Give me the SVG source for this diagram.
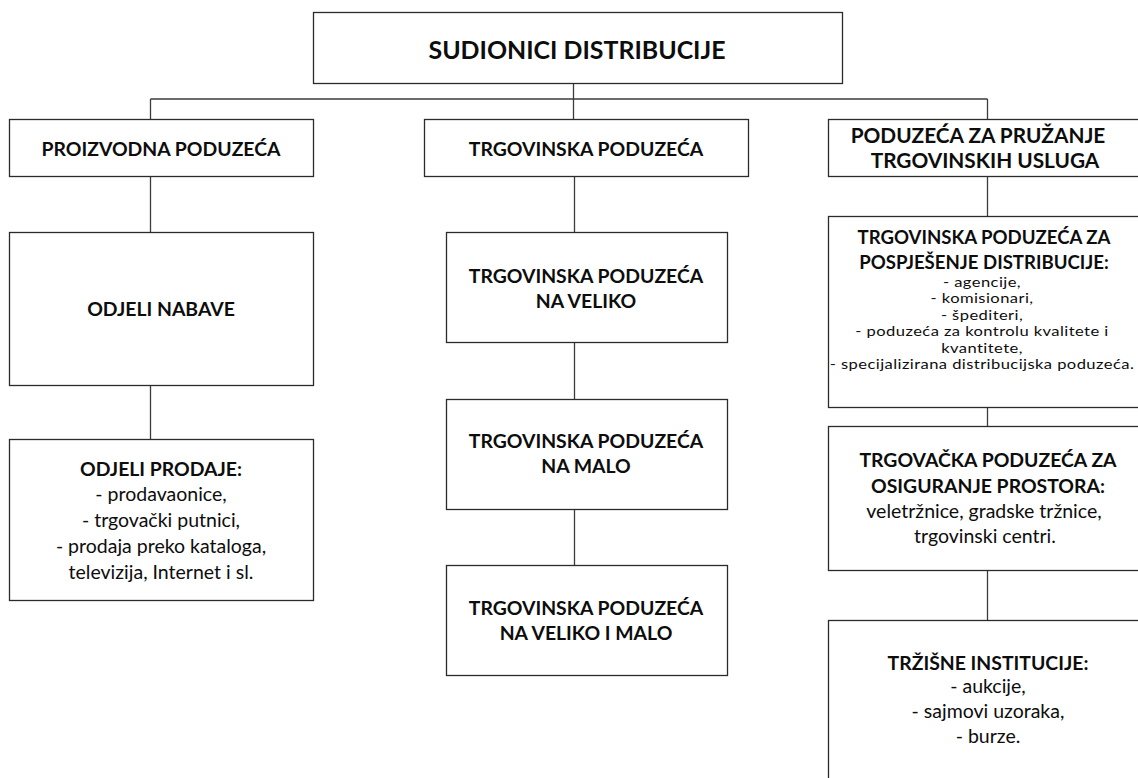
<svg xmlns="http://www.w3.org/2000/svg" width="1138" height="778" viewBox="0 0 1138 778">
<style>
.box{fill:#fff;stroke:#2b2b2b;stroke-width:1.3}
.con{fill:none;stroke:#3c3c3c;stroke-width:1.3}
text{font-family:Lato,"Open Sans","Liberation Sans",sans-serif;fill:#0d0d0d;text-anchor:middle}
.t{font-size:24.9px;font-weight:700}
.b{font-size:19.4px;font-weight:700}
.bu{font-size:20.8px;font-weight:700}
.b2{font-size:18.6px;font-weight:700}
.r{font-size:19.5px}
.s{font-size:13.8px;letter-spacing:0.35px}
</style>
<rect width="1138" height="778" fill="#fff"/>
<g id="connectors">
<path class="con" d="M573.5 83V99M150.5 99H987.5M150.5 99V119M573.5 99V119M987.5 99V119"/>
<path class="con" d="M150.5 176V232M150.5 386V439"/>
<path class="con" d="M574.5 176V232M574.5 342V399M574.5 509V565"/>
<path class="con" d="M987.5 176V216M987.5 407V426M987.5 570V620"/>
</g>
<g id="root"><rect class="box" x="313.5" y="12.5" width="529" height="71"/><text class="t" x="577" y="59">SUDIONICI DISTRIBUCIJE</text></g>
<g id="proizvodna"><rect class="box" x="9.5" y="119.5" width="304" height="57"/><text class="b" x="161" y="156">PROIZVODNA PODUZEĆA</text></g>
<g id="trgovinska"><rect class="box" x="424.5" y="119.5" width="324" height="57"/><text class="b" x="586" y="156">TRGOVINSKA PODUZEĆA</text></g>
<g id="usluge"><rect class="box" x="828.5" y="119.5" width="320" height="57"/><text class="bu" x="978" y="143">PODUZEĆA ZA PRUŽANJE</text><text class="bu" x="985" y="168">TRGOVINSKIH USLUGA</text></g>
<g id="nabave"><rect class="box" x="9.5" y="232.5" width="304" height="153"/><text class="b" x="161" y="316">ODJELI NABAVE</text></g>
<g id="prodaje"><rect class="box" x="9.5" y="439.5" width="304" height="161"/>
<text class="b" x="161" y="476">ODJELI PRODAJE:</text>
<text class="r" x="161" y="501">- prodavaonice,</text>
<text class="r" x="161" y="527">- trgovački putnici,</text>
<text class="r" x="161" y="553">- prodaja preko kataloga,</text>
<text class="r" x="161" y="579">televizija, Internet i sl.</text></g>
<g id="veliko"><rect class="box" x="446.5" y="232.5" width="281" height="110"/><text class="b" x="586" y="283">TRGOVINSKA PODUZEĆA</text><text class="b" x="586" y="308">NA VELIKO</text></g>
<g id="malo"><rect class="box" x="446.5" y="399.5" width="281" height="110"/><text class="b" x="586" y="448">TRGOVINSKA PODUZEĆA</text><text class="b" x="586" y="473">NA MALO</text></g>
<g id="velikomalo"><rect class="box" x="446.5" y="565.5" width="281" height="110"/><text class="b" x="586" y="615">TRGOVINSKA PODUZEĆA</text><text class="b" x="586" y="640">NA VELIKO I MALO</text></g>
<g id="pospjesenje"><rect class="box" x="828.5" y="216.5" width="320" height="191"/>
<text class="b2" x="984" y="244">TRGOVINSKA PODUZEĆA ZA</text>
<text class="b2" x="984" y="269">POSPJEŠENJE DISTRIBUCIJE:</text>
<g transform="translate(982 0) scale(1.2 1)">
<text class="s" x="0" y="287">-  agencije,</text>
<text class="s" x="0" y="303.5">- komisionari,</text>
<text class="s" x="0" y="320">- špediteri,</text>
<text class="s" x="0" y="336.5">- poduzeća za kontrolu kvalitete i</text>
<text class="s" x="0" y="353">kvantitete,</text>
<text class="s" x="0" y="369.5">- specijalizirana distribucijska poduzeća.</text>
</g></g>
<g id="prostor"><rect class="box" x="828.5" y="426.5" width="320" height="144"/>
<text class="b" x="988" y="467">TRGOVAČKA PODUZEĆA ZA</text>
<text class="b" x="988" y="493">OSIGURANJE PROSTORA:</text>
<text class="r" x="984" y="518">veletržnice, gradske tržnice,</text>
<text class="r" x="985" y="543">trgovinski centri.</text></g>
<g id="institucije"><rect class="box" x="828.5" y="620.5" width="320" height="170"/>
<text class="b" x="988" y="670">TRŽIŠNE INSTITUCIJE:</text>
<text class="r" x="988" y="693">- aukcije,</text>
<text class="r" x="988" y="718">- sajmovi uzoraka,</text>
<text class="r" x="988" y="743">- burze.</text></g>
</svg>
